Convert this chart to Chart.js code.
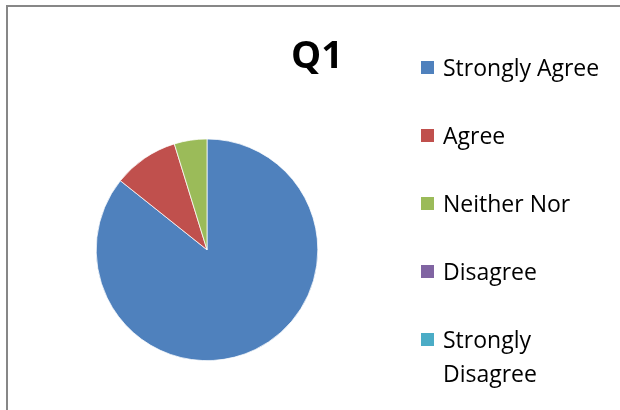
<!DOCTYPE html>
<html>
<head>
<meta charset="utf-8">
<script src="https://cdn.jsdelivr.net/npm/chart.js@4.4.0/dist/chart.umd.min.js"></script>
<style>
  body{margin:0;background:#fff;overflow:hidden;}
  #wrap{position:relative;width:620px;height:410px;overflow:hidden;}
  #frame{position:absolute;left:6px;top:5px;width:700px;height:500px;border:2px solid #878787;}
  #myChart{position:absolute;left:0;top:0;}
  #legend{position:absolute;left:421px;top:50px;margin:0;padding:0;list-style:none;font-family:'Open Sans';font-size:23px;color:#000;}
  #legend li{display:flex;align-items:flex-start;line-height:34px;margin-bottom:34px;}
  #legend .box{display:inline-block;width:13px;height:13px;margin-top:11px;margin-right:9px;flex:none;}
  #legend .txt{width:170px;}
</style>
</head>
<body>
  <div id="wrap">
    <div id="frame"></div>
    <canvas id="myChart" width="620" height="410"></canvas>
    <ul id="legend"></ul>
  </div>
  <script>
    // survey answers for Q1
    let answers=['Strongly Agree','Agree','Neither Nor','Disagree','Strongly Disagree'];
    let counts=[18,2,1,0,0];
    let colors=['#4F81BD','#C0504D','#9BBB59','#8064A2','#4BACC6'];

    var ctx=document.getElementById('myChart').getContext('2d');
    var myChart=new Chart(ctx,{
      type:'pie',
      data:{
        labels:answers,
        datasets:[{
          data:counts,
          backgroundColor:colors,
          borderColor:'#fff',
          borderWidth:0.75
        }]
      },
      options:{
        responsive:false,
        animation:false,
        devicePixelRatio:1,
        layout:{padding:{left:71,right:277,top:0,bottom:49}},
        plugins:{
          legend:{display:false},
          tooltip:{enabled:false},
          title:{
            display:true,
            text:'Q1',
            align:'end',
            color:'#000',
            font:{family:'Open Sans',size:38,weight:'bold',lineHeight:1.2},
            padding:{top:34,bottom:59}
          }
        }
      }
    });

    // legend built from the chart's own labels
    let ul=document.getElementById('legend');
    myChart.options.plugins.legend.labels.generateLabels(myChart).forEach(item=>{
      let li=document.createElement('li');
      let box=document.createElement('span');
      box.className='box';
      box.style.background=item.fillStyle;
      let txt=document.createElement('span');
      txt.className='txt';
      txt.textContent=item.text;
      li.appendChild(box);
      li.appendChild(txt);
      ul.appendChild(li);
    });
  </script>
</body>
</html>
